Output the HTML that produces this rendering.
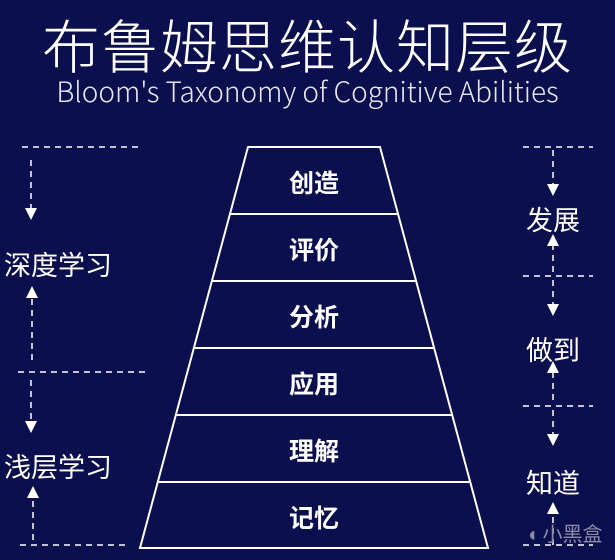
<!DOCTYPE html>
<html><head><meta charset="utf-8"><style>
html,body{margin:0;padding:0;}
body{width:615px;height:560px;background:#0c0f4e;overflow:hidden;position:relative;font-family:"Liberation Sans","Noto Sans CJK SC",sans-serif;color:#fff;}
.t{position:absolute;white-space:nowrap;}
</style></head><body>
<div class="t" style="left:0;width:615px;text-align:center;top:8px;font-size:58px;line-height:70px;font-family:'Noto Sans CJK SC',sans-serif;font-weight:300;letter-spacing:1px;">布鲁姆思维认知层级</div>
<div class="t" style="left:0;width:615px;text-align:center;top:74px;font-size:28px;line-height:34px;font-family:'Noto Sans CJK SC','Liberation Sans',sans-serif;font-weight:300;color:#e8e8ee;">Bloom's Taxonomy of Cognitive Abilities</div>
<svg width="615" height="560" style="position:absolute;left:0;top:0" xmlns="http://www.w3.org/2000/svg">
<defs><marker id="a" markerWidth="8" markerHeight="8" refX="4" refY="4" orient="auto"><path d="M0,0 L8,4 L0,8 z" fill="#fff"/></marker></defs>
<g stroke="#fff" stroke-width="2" fill="none">
<polygon points="248,147 380,147 488,548 140,548"/>
<line x1="230" y1="214" x2="398" y2="214"/>
<line x1="212" y1="281" x2="416" y2="281"/>
<line x1="194" y1="348" x2="434" y2="348"/>
<line x1="176" y1="415" x2="452" y2="415"/>
<line x1="158" y1="482" x2="470" y2="482"/>
</g>
<g stroke="#fff" stroke-width="1.5" fill="none" stroke-dasharray="6,5">
<line x1="22" y1="147" x2="142" y2="147"/>
<line x1="18" y1="372" x2="148" y2="372"/>
<line x1="20" y1="545" x2="130" y2="545"/>
<line x1="31" y1="160" x2="31" y2="214" marker-end="url(#a)"/>
<line x1="32" y1="360" x2="32" y2="292" marker-end="url(#a)"/>
<line x1="31" y1="380" x2="31" y2="427" marker-end="url(#a)"/>
<line x1="33" y1="540" x2="33" y2="492" marker-end="url(#a)"/>
<line x1="523" y1="147" x2="593" y2="147"/>
<line x1="523" y1="276" x2="593" y2="276"/>
<line x1="523" y1="406" x2="593" y2="406"/>
<line x1="523" y1="545" x2="593" y2="545"/>
<line x1="553" y1="150" x2="553" y2="190" marker-end="url(#a)"/>
<line x1="553" y1="272" x2="553" y2="240" marker-end="url(#a)"/>
<line x1="553" y1="280" x2="553" y2="310" marker-end="url(#a)"/>
<line x1="553" y1="400" x2="553" y2="367" marker-end="url(#a)"/>
<line x1="553" y1="410" x2="553" y2="440" marker-end="url(#a)"/>
<line x1="553" y1="545" x2="553" y2="508" marker-end="url(#a)"/>
</g>
</svg>
<div style="position:absolute;left:0;width:628px;text-align:center;font-size:25px;font-weight:bold;font-family:'Noto Sans CJK SC',sans-serif;">
<div class="t" style="left:0;width:628px;top:164px;">创造</div>
<div class="t" style="left:0;width:628px;top:231px;">评价</div>
<div class="t" style="left:0;width:628px;top:298px;">分析</div>
<div class="t" style="left:0;width:628px;top:365px;">应用</div>
<div class="t" style="left:0;width:628px;top:432px;">理解</div>
<div class="t" style="left:0;width:628px;top:499px;">记忆</div>
</div>
<div class="t" style="left:4px;top:244px;font-size:27px;font-family:'Noto Sans CJK SC',sans-serif;">深度学习</div>
<div class="t" style="left:4px;top:446px;font-size:27px;font-family:'Noto Sans CJK SC',sans-serif;">浅层学习</div>
<div class="t" style="left:526px;top:199px;font-size:27px;font-family:'Noto Sans CJK SC',sans-serif;">发展</div>
<div class="t" style="left:526px;top:329px;font-size:27px;font-family:'Noto Sans CJK SC',sans-serif;">做到</div>
<div class="t" style="left:526px;top:462px;font-size:27px;font-family:'Noto Sans CJK SC',sans-serif;">知道</div>
<div class="t" style="left:526px;top:518px;font-size:20px;color:#8a8ca8;font-family:'Noto Sans CJK SC',sans-serif;">◖ 小黑盒</div>
</body></html>
